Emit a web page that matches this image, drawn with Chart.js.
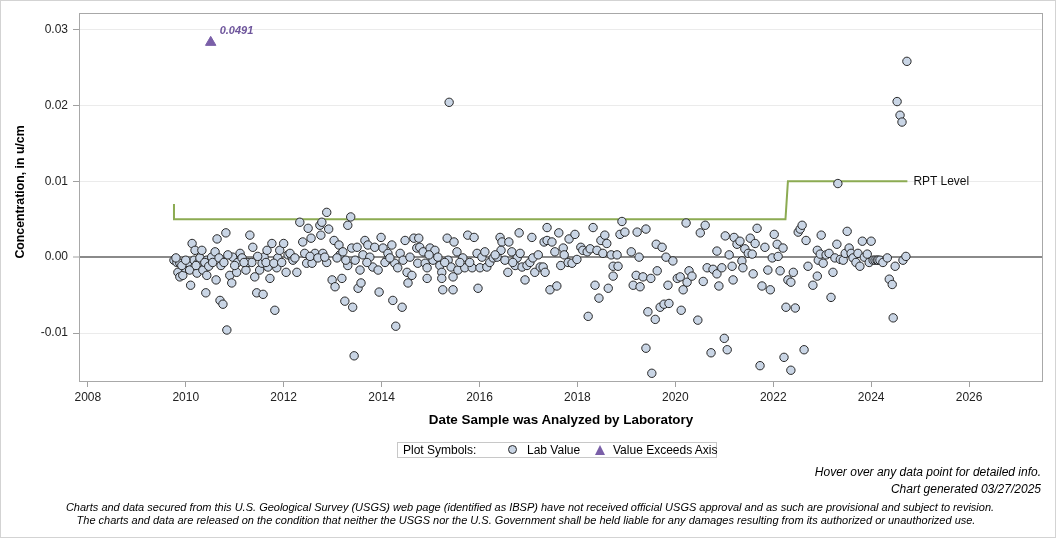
<!DOCTYPE html>
<html><head><meta charset="utf-8">
<script src="https://cdn.jsdelivr.net/npm/chart.js@4.4.1/dist/chart.umd.min.js"></script>
<style>
html,body{margin:0;padding:0;background:#fff;}
#wrap{position:relative;width:1056px;height:538px;overflow:hidden;font-family:"Liberation Sans",Arial,sans-serif;color:#000;}
#frame{position:absolute;left:0;top:0;width:1054px;height:536px;border:1px solid #d3d3d3;pointer-events:none;}
canvas{position:absolute;left:0;top:0;}
.t{position:absolute;white-space:nowrap;line-height:1;transform:translateY(-50%);}
.i{font-style:italic;}
</style></head>
<body><div id="wrap">
<canvas id="c" width="1056" height="538"></canvas>
<div id="frame"></div>
<div class="t" id="ytitle" style="left:20px;top:192px;font-weight:bold;font-size:12.3px;transform:translate(-50%,-50%) rotate(-90deg);">Concentration, in u/cm</div>
<div class="t" id="xtitle" style="left:561px;top:420px;font-weight:bold;font-size:13.4px;transform:translate(-50%,-50%);">Date Sample was Analyzed by Laboratory</div>
<div style="position:absolute;left:397px;top:442px;width:320px;height:16px;box-sizing:border-box;border:1px solid #c8c8c8;"></div>
<div class="t" style="left:403px;top:450px;font-size:12px;">Plot Symbols:</div>
<div style="position:absolute;left:508px;top:445px;width:9px;height:9px;box-sizing:border-box;border-radius:50%;background:#c9d5e5;border:1px solid #262626;"></div>
<div class="t" style="left:527px;top:450px;font-size:12px;">Lab Value</div>
<div style="position:absolute;left:594.5px;top:445px;width:0;height:0;border-left:5.5px solid transparent;border-right:5.5px solid transparent;border-bottom:10px solid #7a5fa8;"></div>
<div class="t" style="left:613px;top:450px;font-size:12px;">Value Exceeds Axis</div>
<div class="t i" style="right:15px;top:472px;font-size:12px;">Hover over any data point for detailed info.</div>
<div class="t i" style="right:15px;top:489px;font-size:12px;">Chart generated 03/27/2025</div>
<div class="t i" style="left:530px;top:507px;font-size:11px;transform:translate(-50%,-50%);">Charts and data secured from this U.S. Geological Survey (USGS) web page (identified as IBSP) have not received official USGS approval and as such are provisional and subject to revision.</div>
<div class="t i" style="left:526px;top:520px;font-size:11px;transform:translate(-50%,-50%);">The charts and data are released on the condition that neither the USGS nor the U.S. Government shall be held liable for any damages resulting from its authorized or unauthorized use.</div>
<div class="t" id="exLabel" style="font-size:11px;font-weight:bold;font-style:italic;color:#6e559c;"></div>
<div class="t" id="rptLabel" style="font-size:12px;color:#111;">RPT Level</div>
</div>
<script>
// ---- data ----
const labYears = [
2009.76,2009.82,2009.88,2009.84,2009.88,2009.94,2009.98,2010.04,2010.08,2010.10,
2010.13,2010.19,2010.17,2010.23,2010.25,2010.29,2010.33,2010.35,2010.43,2010.43,
2010.41,2010.49,2010.53,2010.60,2010.62,2010.64,2010.70,2010.76,2010.72,2010.82,
2010.84,2010.90,2010.94,2010.96,2011.04,2011.06,2011.11,2011.15,2011.23,2011.27,
2011.31,2011.37,2011.35,2011.41,2011.45,2011.58,2011.51,2011.56,2011.60,2011.66,
2011.68,2011.72,2011.76,2011.82,2011.86,2011.88,2011.92,2012.00,2012.05,2012.09,
2012.17,2009.80,2009.92,2010.00,2010.21,2010.39,2010.47,2010.55,2010.68,2010.78,
2010.86,2011.00,2011.19,2011.47,2011.64,2011.80,2011.96,
2012.13,2012.19,2012.27,2012.33,2012.39,2012.43,2012.50,2012.47,2012.56,2012.58,
2012.64,2012.74,2012.76,2012.78,2012.80,2012.88,2012.92,2012.88,2012.99,2013.05,
2013.03,2013.13,2013.19,2013.15,2013.21,2013.25,2013.31,2013.37,2013.41,2013.31,
2013.39,2013.46,2013.50,2013.56,2013.52,2013.58,2013.44,2013.62,2013.66,2013.72,
2013.76,2013.82,2013.86,2013.93,2013.95,2013.99,2014.03,2014.11,2014.13,2014.21,
2014.23,2014.29,2014.27,2014.33,2014.42,2014.38,2014.48,2014.52,2014.54,2014.62,
2014.66,2014.72,2014.74,2012.23,2012.54,2012.70,2012.84,2013.09,2013.27,2013.70,
2014.07,2014.17,2014.44,2014.58,
2014.76,2014.78,2014.85,2014.89,2014.93,2014.93,2014.99,2015.05,2015.09,2015.15,
2015.19,2015.23,2015.25,2015.23,2015.34,2015.36,2015.38,2015.42,2015.46,2015.48,
2015.46,2015.54,2015.56,2015.66,2015.70,2015.76,2015.85,2015.89,2015.95,2015.97,
2016.01,2016.05,2016.11,2016.15,2016.21,2016.28,2016.36,2016.42,2016.46,2016.44,
2016.52,2016.58,2016.60,2016.66,2016.73,2016.77,2016.81,2016.83,2016.87,2016.93,
2016.97,2017.03,2017.07,2017.09,2017.13,2017.20,2017.24,2017.32,2017.38,2014.97,
2015.29,2015.60,2015.80,2016.32,2016.68,
2017.30,2017.34,2017.38,2017.48,2017.44,2017.54,2017.58,2017.62,2017.66,2017.71,
2017.73,2017.81,2017.83,2017.89,2017.95,2017.99,2018.07,2018.11,2018.20,2018.22,
2018.26,2018.32,2018.36,2018.40,2018.44,2018.48,2018.52,2018.56,2018.60,2018.63,
2018.69,2018.73,2018.73,2018.81,2018.83,2018.87,2018.91,2018.97,2019.10,2019.14,
2019.20,2019.22,2019.26,2019.28,2019.34,2019.40,2019.40,2019.44,2019.50,2019.52,
2019.59,2019.61,2019.63,2019.69,2019.73,2019.77,2019.81,2019.85,2019.87,
2019.95,2020.04,2020.10,2020.12,2020.16,2020.22,2020.24,2020.28,2020.34,2020.46,
2020.51,2020.57,2020.61,2020.65,2020.73,2020.77,2020.85,2020.85,2020.89,2020.95,
2021.00,2021.02,2021.06,2021.10,2021.16,2021.18,2021.20,2021.26,2021.32,2021.36,
2021.38,2021.42,2021.49,2021.53,2021.57,2021.59,2021.63,2021.67,2021.73,2021.77,
2021.83,2021.89,2021.94,2021.98,2022.02,2022.08,2022.10,2022.14,2022.20,2022.22,
2022.26,2022.30,2022.36,2022.36,2022.41,2022.45,
2022.51,2022.55,2022.59,2022.63,2022.67,2022.71,2022.81,2022.90,2022.90,2022.92,
2022.96,2022.98,2023.02,2023.08,2023.14,2023.18,2023.22,2023.26,2023.30,2023.32,
2023.37,2023.43,2023.47,2023.51,2023.55,2023.59,2023.63,2023.69,2023.73,2023.77,
2023.82,2023.86,2023.92,2023.96,2024.00,2024.04,2024.08,2024.12,2024.14,2024.18,
2024.24,2024.33,2024.37,2024.43,2024.45,2024.49,2024.53,2024.59,2024.63,2024.65,
2024.71,2024.73
];
const labValues = [
-0.0004,-0.0007,-0.0008,-0.0020,-0.0026,-0.0024,-0.0014,-0.0007,-0.0017,-0.0037,
0.0018,0.0009,-0.0004,-0.0021,-0.0008,-0.0001,0.0009,-0.0017,-0.0024,-0.0004,
-0.0047,-0.0007,0.0000,0.0007,-0.0030,0.0024,-0.0057,-0.0062,-0.0011,0.0032,
-0.0096,-0.0024,-0.0034,0.0000,-0.0020,-0.0007,0.0005,-0.0001,-0.0017,-0.0007,
0.0029,0.0013,-0.0007,-0.0026,-0.0047,-0.0049,-0.0017,-0.0008,0.0000,0.0009,
-0.0013,-0.0028,0.0018,-0.0070,-0.0014,-0.0001,0.0009,0.0018,-0.0020,0.0003,
0.0000,-0.0001,-0.0011,-0.0004,-0.0011,-0.0007,-0.0012,-0.0007,-0.0001,-0.0007,
0.0003,-0.0011,-0.0007,0.0001,-0.0007,-0.0008,-0.0007,
0.0005,-0.0004,-0.0020,0.0046,0.0020,0.0005,0.0038,-0.0008,0.0025,-0.0008,
0.0005,0.0042,0.0029,0.0046,0.0005,0.0059,0.0037,-0.0007,-0.0030,-0.0039,
0.0022,0.0016,-0.0028,0.0003,0.0007,-0.0058,0.0042,0.0053,-0.0066,-0.0011,
0.0012,-0.0004,0.0013,-0.0017,-0.0041,-0.0034,-0.0130,0.0003,0.0022,0.0016,
0.0000,-0.0013,0.0013,-0.0017,-0.0046,0.0026,0.0012,-0.0004,0.0005,0.0016,
-0.0057,-0.0091,-0.0008,-0.0014,-0.0066,0.0005,0.0022,-0.0020,-0.0034,-0.0024,
0.0025,0.0012,-0.0008,-0.0001,0.0001,-0.0001,0.0000,-0.0001,-0.0004,-0.0007,
-0.0007,-0.0001,-0.0004,0.0000,
0.0025,0.0013,0.0007,-0.0008,-0.0014,-0.0028,0.0012,-0.0004,0.0009,0.0000,
-0.0011,-0.0020,-0.0043,-0.0028,0.0025,-0.0004,0.0204,-0.0013,-0.0043,0.0020,
-0.0026,0.0007,-0.0017,-0.0001,-0.0014,0.0029,-0.0014,0.0026,0.0005,-0.0041,
-0.0014,0.0000,0.0007,-0.0013,-0.0007,-0.0001,0.0000,0.0026,0.0020,0.0009,
-0.0004,-0.0020,0.0020,0.0007,-0.0011,-0.0001,0.0032,0.0005,-0.0013,-0.0030,
-0.0011,-0.0007,0.0026,-0.0001,-0.0020,0.0003,-0.0013,0.0020,0.0039,0.0003,
-0.0007,-0.0007,-0.0007,0.0003,-0.0007,
-0.0013,-0.0020,0.0022,0.0020,-0.0043,0.0007,-0.0038,0.0032,-0.0011,0.0012,
0.0003,-0.0007,0.0024,-0.0008,0.0030,-0.0003,0.0013,0.0009,0.0007,-0.0078,
0.0011,0.0039,-0.0037,0.0009,-0.0054,0.0022,0.0005,0.0029,0.0018,-0.0041,
0.0003,-0.0012,-0.0025,0.0003,-0.0012,0.0030,0.0047,0.0033,0.0007,-0.0037,
-0.0024,0.0033,0.0000,-0.0039,-0.0026,0.0037,-0.0120,-0.0072,-0.0028,-0.0153,
-0.0082,0.0017,-0.0018,-0.0066,0.0013,-0.0062,0.0000,-0.0037,-0.0061,
-0.0005,-0.0028,-0.0026,-0.0070,-0.0043,0.0045,-0.0033,-0.0018,-0.0025,-0.0083,
0.0032,-0.0032,0.0042,-0.0014,-0.0126,-0.0016,-0.0022,0.0008,-0.0038,-0.0014,
-0.0107,0.0028,-0.0122,0.0003,-0.0012,-0.0030,0.0026,0.0017,0.0021,-0.0005,
-0.0014,0.0011,0.0005,0.0025,0.0004,-0.0022,0.0018,0.0038,-0.0143,-0.0038,
0.0013,-0.0017,-0.0043,-0.0001,0.0030,0.0017,0.0001,-0.0018,0.0012,-0.0132,
-0.0066,-0.0030,-0.0149,-0.0033,-0.0020,-0.0067,
0.0033,0.0037,0.0042,-0.0122,0.0022,-0.0012,-0.0037,0.0009,-0.0025,-0.0004,
0.0004,0.0029,-0.0008,0.0003,0.0005,-0.0053,-0.0020,-0.0001,0.0017,0.0097,
-0.0003,-0.0004,0.0005,0.0034,0.0012,0.0005,-0.0001,-0.0007,0.0005,-0.0012,
0.0021,0.0000,0.0004,-0.0007,0.0021,-0.0004,-0.0004,-0.0004,-0.0004,-0.0004,
-0.0007,-0.0001,-0.0029,-0.0036,-0.0080,-0.0012,0.0205,0.0187,0.0178,-0.0004,
0.0001,0.0258
];
// value exceeding the axis: drawn at the top of the plot, labelled with its true value
const exceedYears = [2010.51];
const exceedPlotValues = [0.0283];
const exceedLabels = ['0.0491'];
// reporting level step line
const rptYears = [2009.76, 2009.76, 2022.25, 2022.30, 2024.74];
const rptValues = [0.007, 0.005, 0.005, 0.010, 0.010];
// axes
const xTickYears = [2008, 2010, 2012, 2014, 2016, 2018, 2020, 2022, 2024, 2026];
const yTickValues = [-0.01, 0.00, 0.01, 0.02, 0.03];
const xRange = [2007.82, 2027.51];
const yRange = [-0.01645, 0.03217];

const framePlugin = {
  id: 'frame',
  afterDraw(chart) {
    const a = chart.chartArea, ctx = chart.ctx;
    ctx.save();
    ctx.strokeStyle = '#a8a8a8';
    ctx.lineWidth = 1;
    ctx.strokeRect(a.left + 0.5, a.top + 0.5, a.right - a.left - 1, a.bottom - a.top - 1);
    ctx.restore();
    const xs = chart.scales.x, ys = chart.scales.y;
    const ex = document.getElementById('exLabel');
    ex.textContent = exceedLabels[0];
    ex.style.left = (xs.getPixelForValue(exceedYears[0]) + 9) + 'px';
    ex.style.top = (ys.getPixelForValue(exceedPlotValues[0]) - 12) + 'px';
    const rl = document.getElementById('rptLabel');
    rl.style.left = (xs.getPixelForValue(rptYears[rptYears.length - 1]) + 6) + 'px';
    rl.style.top = (ys.getPixelForValue(rptValues[rptValues.length - 1])) + 'px';
  }
};

const tickFont = { family: "'Liberation Sans', Arial, sans-serif", size: 12 };

new Chart(document.getElementById('c'), {
  type: 'scatter',
  data: {
    datasets: [
      {
        label: 'Lab Value',
        data: labYears.map((x, i) => ({ x: x, y: labValues[i] })),
        pointRadius: 4.2,
        pointHoverRadius: 5.5,
        pointBackgroundColor: '#c9d5e5',
        pointBorderColor: '#262626',
        pointBorderWidth: 1,
        order: 1
      },
      {
        label: 'Value Exceeds Axis',
        data: exceedYears.map((x, i) => ({ x: x, y: exceedPlotValues[i] })),
        pointStyle: 'triangle',
        pointRadius: 6,
        pointHoverRadius: 7,
        pointBackgroundColor: '#7a5fa8',
        pointBorderColor: '#7a5fa8',
        pointBorderWidth: 1,
        order: 0
      },
      {
        label: 'RPT Level',
        type: 'line',
        data: rptYears.map((x, i) => ({ x: x, y: rptValues[i] })),
        showLine: true,
        borderColor: '#8cab52',
        borderWidth: 2,
        pointRadius: 0,
        pointHoverRadius: 0,
        fill: false,
        tension: 0,
        order: 3
      }
    ]
  },
  options: {
    responsive: false,
    animation: false,
    devicePixelRatio: 1,
    layout: { padding: { left: 0, top: 13, right: 13, bottom: 126 } },
    plugins: {
      legend: { display: false },
      tooltip: {
        callbacks: {
          label: (c) => c.dataset.label + ': ' + c.parsed.x.toFixed(2) + ', ' +
            (c.datasetIndex === 1 ? exceedLabels[c.dataIndex] : c.parsed.y.toFixed(4))
        }
      }
    },
    scales: {
      x: {
        type: 'linear',
        min: xRange[0], max: xRange[1],
        afterBuildTicks: (s) => { s.ticks = xTickYears.map(v => ({ value: v })); },
        afterFit: (s) => { s.height = 30; },
        border: { display: false },
        grid: { drawOnChartArea: false, drawTicks: true, tickLength: 5, tickColor: '#a0a0a0', color: '#a0a0a0' },
        ticks: { font: tickFont, color: '#222', padding: 3, maxRotation: 0, autoSkip: false, callback: (v) => String(v) }
      },
      y: {
        type: 'linear',
        min: yRange[0], max: yRange[1],
        afterBuildTicks: (s) => { s.ticks = yTickValues.map(v => ({ value: v })); },
        afterFit: (s) => { s.width = 79; },
        border: { display: false },
        grid: {
          color: (c) => (c.tick && Math.abs(c.tick.value) < 1e-9) ? '#8a8a8a' : '#ebebeb',
          lineWidth: (c) => (c.tick && Math.abs(c.tick.value) < 1e-9) ? 2 : 1,
          tickColor: '#a0a0a0', tickLength: 6, tickWidth: 1
        },
        ticks: { font: tickFont, color: '#222', padding: 5, autoSkip: false, callback: (v) => Number(v).toFixed(2) }
      }
    }
  },
  plugins: [framePlugin]
});
</script>
</body></html>
